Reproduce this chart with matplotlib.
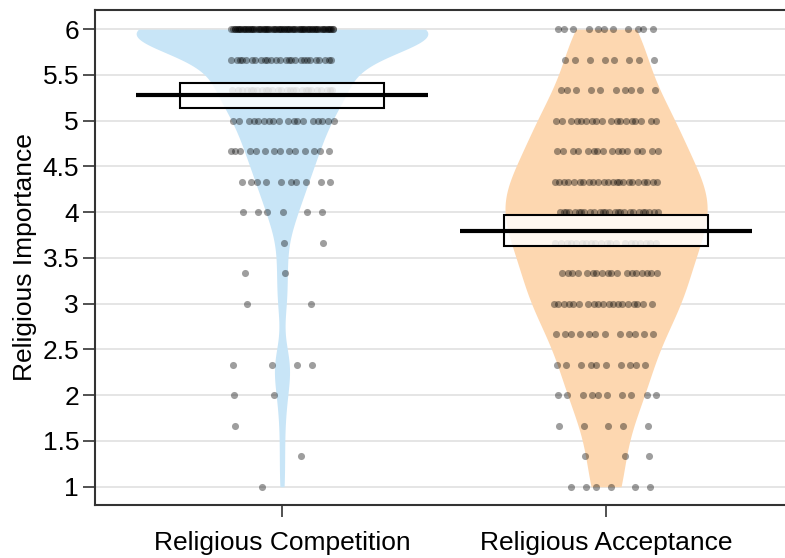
import numpy as np
import matplotlib
matplotlib.use("Agg")
import matplotlib.pyplot as plt

# Religious importance ratings (mean of three items, so values fall on thirds)
groups = ["Religious Competition", "Religious Acceptance"]
levels = [1, 4/3, 5/3, 2, 7/3, 8/3, 3, 10/3, 11/3, 4, 13/3, 14/3, 5, 16/3, 17/3, 6]
competition_counts = [1, 1, 1, 2, 4, 0, 2, 2, 2, 6, 10, 14, 18, 26, 26, 84]
acceptance_counts = [6, 3, 5, 10, 10, 12, 19, 18, 20, 26, 23, 16, 18, 10, 8, 11]

yticks = [1, 1.5, 2, 2.5, 3, 3.5, 4, 4.5, 5, 5.5, 6]
ytick_labels = ["1", "1.5", "2", "2.5", "3", "3.5", "4", "4.5", "5", "5.5", "6"]
ylabel = "Religious Importance"

bean_colors = ["#C8E5F7", "#FDD7B0"]

plt.rcParams["font.family"] = ["Liberation Sans", "DejaVu Sans"]

fig = plt.figure(figsize=(7.85, 5.58), dpi=100)
ax = fig.add_axes([95 / 785, 53 / 558, 700 / 785, 495 / 558])


def expand(counts):
    return np.repeat(np.array(levels, dtype=float), counts)


def nrd0(x):
    sd = np.std(x, ddof=1)
    q1, q3 = np.percentile(x, [25, 75])
    lo = min(sd, (q3 - q1) / 1.34)
    return 0.9 * lo * len(x) ** (-0.2)


def kde(x, grid, bw):
    z = (grid[:, None] - x[None, :]) / bw
    return np.exp(-0.5 * z ** 2).sum(axis=1) / (len(x) * bw * np.sqrt(2 * np.pi))


data = [expand(competition_counts), expand(acceptance_counts)]
positions = [1, 2]
width_min, width_max = 0.30, 0.45

# horizontal grid
for yv in yticks:
    ax.axhline(yv, color="#E3E3E3", lw=1.3, zorder=0)

golden = 0.6180339887
jitter = 0.16

for pos, x, col in zip(positions, data, bean_colors):
    # bean: raw density as half-width, clamped to [width_min, width_max]
    grid = np.linspace(x.min(), x.max(), 512)
    w = kde(x, grid, nrd0(x))
    if w.max() > width_max:
        w = w / w.max() * width_max
    elif w.max() < width_min:
        w = w / w.max() * width_min
    ax.fill_betweenx(grid, pos - w, pos + w, color=col, lw=0, zorder=1)

    # points, spread deterministically across the jitter band per level
    xs, ys = [], []
    for k, lv in enumerate(np.unique(x)):
        n = int(np.sum(x == lv))
        off = (((np.arange(n) + 0.5) * golden + 0.37 * k) % 1.0 - 0.5) * 2 * jitter
        xs.extend(pos + off)
        ys.extend([lv] * n)
    ax.scatter(xs, ys, s=26, color="black", alpha=0.38, lw=0, zorder=2)

    # mean line and 95% interval box
    m = x.mean()
    half = 1.96 * x.std(ddof=1) / np.sqrt(len(x))
    ax.add_patch(plt.Rectangle((pos - 0.315, m - half), 0.63, 2 * half,
                               facecolor=(1, 1, 1, 0.82), edgecolor="black",
                               lw=1.5, zorder=3))
    ax.plot([pos - 0.45, pos + 0.45], [m, m], color="black", lw=3,
            solid_capstyle="butt", zorder=4)

ax.set_xlim(0.423, 2.583)
ax.set_ylim(0.80, 6.21)
ax.set_yticks(yticks)
ax.set_yticklabels(ytick_labels)
ax.set_xticks(positions)
ax.set_xticklabels(groups)
ax.set_ylabel(ylabel, fontsize=19, labelpad=4)

ax.tick_params(axis="y", labelsize=19, length=8.5, width=1.2, pad=3,
               color="#333333")
ax.tick_params(axis="x", labelsize=19, length=8.5, width=1.2, pad=10,
               color="#333333")
for side in ["left", "bottom", "top"]:
    ax.spines[side].set_color("#333333")
    ax.spines[side].set_linewidth(1.5)
ax.spines["right"].set_visible(False)

fig.savefig("out.png", dpi=100)
